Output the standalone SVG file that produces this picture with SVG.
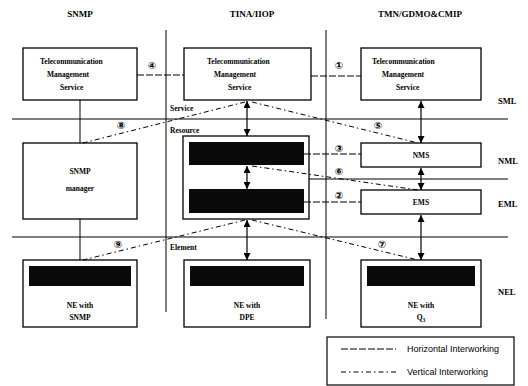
<svg xmlns="http://www.w3.org/2000/svg" width="528" height="386" viewBox="0 0 528 386">
<defs>
<marker id="ah" viewBox="0 0 10 10" refX="10" refY="5" markerWidth="7" markerHeight="7" orient="auto-start-reverse" markerUnits="userSpaceOnUse"><path d="M0,0 L10,5 L0,10 z" fill="#000"/></marker>
<style>
.box{fill:#fff;stroke:#000;stroke-width:1.3}
.dark{fill:#0a0a0a}
.t{font-family:"Liberation Serif","Times New Roman",serif;font-weight:bold;font-size:7.5px;fill:#000}
.hd{font-family:"Liberation Serif","Times New Roman",serif;font-weight:bold;font-size:9px;fill:#000}
.lv{font-family:"Liberation Serif","Times New Roman",serif;font-weight:bold;font-size:8.5px;fill:#000}
.num{font-family:"DejaVu Sans",sans-serif;font-weight:bold;font-size:10px;fill:#000;text-anchor:middle}
.lg{font-family:"Liberation Sans",Arial,sans-serif;font-size:9px;fill:#000}
.rule{stroke:#000;stroke-width:1;fill:none}
.hz{stroke:#000;stroke-width:1;stroke-dasharray:7 2;fill:none}
.vt{stroke:#000;stroke-width:1;stroke-dasharray:5 3 1.5 3;fill:none}
.arr{stroke:#000;stroke-width:1.2;fill:none;marker-start:url(#ah);marker-end:url(#ah)}
</style>
</defs>
<rect width="528" height="386" fill="#fff"/>

<g id="headers">
<text class="hd" x="80" y="17" text-anchor="middle">SNMP</text>
<text class="hd" x="252" y="17" text-anchor="middle">TINA/IIOP</text>
<text class="hd" x="420" y="17" text-anchor="middle">TMN/GDMO&amp;CMIP</text>
</g>

<g id="layers">
<line class="rule" x1="166" y1="30" x2="166" y2="312"/>
<line class="rule" x1="326" y1="30" x2="326" y2="319"/>
<line class="rule" x1="12" y1="119" x2="508" y2="119"/>
<line class="rule" x1="300" y1="179" x2="508" y2="179"/>
<line class="rule" x1="12" y1="237" x2="508" y2="237"/>
<text class="lv" x="498" y="104">SML</text>
<text class="lv" x="498" y="164">NML</text>
<text class="lv" x="498" y="207">EML</text>
<text class="lv" x="498" y="295">NEL</text>
<text class="t" x="170" y="111">Service</text>
<text class="t" x="170" y="133">Resource</text>
<text class="t" x="170" y="250">Element</text>
</g>

<g id="snmp-tms">
<rect class="box" x="23" y="48" width="114" height="52"/>
<text class="t" x="40" y="64">Telecommunication</text>
<text class="t" x="47" y="77">Management</text>
<text class="t" x="60" y="90">Service</text>
</g>
<g id="tina-tms">
<rect class="box" x="184" y="48" width="127" height="52"/>
<text class="t" x="207" y="64">Telecommunication</text>
<text class="t" x="214" y="77">Management</text>
<text class="t" x="228" y="90">Service</text>
</g>
<g id="tmn-tms">
<rect class="box" x="361" y="48" width="120" height="52"/>
<text class="t" x="372" y="64">Telecommunication</text>
<text class="t" x="382" y="77">Management</text>
<text class="t" x="396" y="90">Service</text>
</g>

<g id="snmp-manager">
<rect class="box" x="23" y="143" width="114" height="76"/>
<text class="t" x="80" y="174" text-anchor="middle">SNMP</text>
<text class="t" x="80" y="191" text-anchor="middle">manager</text>
</g>
<g id="tina-resource">
<rect class="box" x="183" y="136" width="126" height="83"/>
<rect class="dark" x="189" y="142" width="115" height="23"/>
<rect class="dark" x="189" y="189" width="115" height="24"/>
</g>
<g id="nms">
<rect class="box" x="361" y="143" width="120" height="24"/>
<text class="t" x="421" y="158" text-anchor="middle">NMS</text>
</g>
<g id="ems">
<rect class="box" x="361" y="190" width="120" height="24"/>
<text class="t" x="421" y="205" text-anchor="middle">EMS</text>
</g>

<g id="ne-snmp">
<rect class="box" x="23" y="260" width="114" height="67"/>
<rect class="dark" x="29" y="266" width="102" height="20"/>
<text class="t" x="80" y="308" text-anchor="middle">NE with</text>
<text class="t" x="80" y="320" text-anchor="middle">SNMP</text>
</g>
<g id="ne-dpe">
<rect class="box" x="184" y="260" width="126" height="67"/>
<rect class="dark" x="190" y="266" width="114" height="20"/>
<text class="t" x="247" y="308" text-anchor="middle">NE with</text>
<text class="t" x="247" y="320" text-anchor="middle">DPE</text>
</g>
<g id="ne-q3">
<rect class="box" x="361" y="260" width="120" height="67"/>
<rect class="dark" x="367" y="266" width="108" height="20"/>
<text class="t" x="421" y="308" text-anchor="middle">NE with</text>
<text class="t" x="421" y="320" text-anchor="middle">Q<tspan font-size="5.5" dy="2">3</tspan></text>
</g>

<g id="connectors">
<line class="rule" x1="80" y1="100" x2="80" y2="143"/>
<line class="rule" x1="80" y1="219" x2="80" y2="260"/>
<line class="arr" x1="247" y1="101" x2="247" y2="136"/>
<line class="arr" x1="247" y1="166" x2="247" y2="189"/>
<line class="arr" x1="247" y1="220" x2="247" y2="260"/>
<line class="arr" x1="421" y1="101" x2="421" y2="143"/>
<line class="arr" x1="421" y1="168" x2="421" y2="190"/>
<line class="arr" x1="421" y1="215" x2="421" y2="260"/>
<line class="hz" x1="137" y1="75" x2="184" y2="75"/>
<line class="hz" x1="311" y1="76" x2="361" y2="76"/>
<line class="hz" x1="304" y1="154" x2="361" y2="154"/>
<line class="hz" x1="304" y1="202" x2="361" y2="202"/>
<line class="vt" x1="245" y1="102" x2="83" y2="143"/>
<line class="vt" x1="252" y1="102" x2="418" y2="143"/>
<line class="vt" x1="252" y1="166" x2="418" y2="190"/>
<line class="vt" x1="245" y1="220" x2="83" y2="260"/>
<line class="vt" x1="252" y1="220" x2="418" y2="260"/>
<text class="num" x="152" y="69">④</text>
<text class="num" x="339" y="69">①</text>
<text class="num" x="121" y="129">⑧</text>
<text class="num" x="378" y="129">⑤</text>
<text class="num" x="339" y="152">③</text>
<text class="num" x="339" y="175">⑥</text>
<text class="num" x="339" y="199">②</text>
<text class="num" x="118" y="248">⑨</text>
<text class="num" x="382" y="248">⑦</text>
</g>

<g id="legend">
<rect x="327" y="337" width="187" height="48" fill="#fff" stroke="#000" stroke-width="1.2"/>
<line class="hz" x1="341" y1="349" x2="396" y2="349"/>
<text class="lg" x="407" y="352">Horizontal  Interworking</text>
<line class="vt" x1="341" y1="372" x2="396" y2="372"/>
<text class="lg" x="407" y="375">Vertical  Interworking</text>
</g>
</svg>
